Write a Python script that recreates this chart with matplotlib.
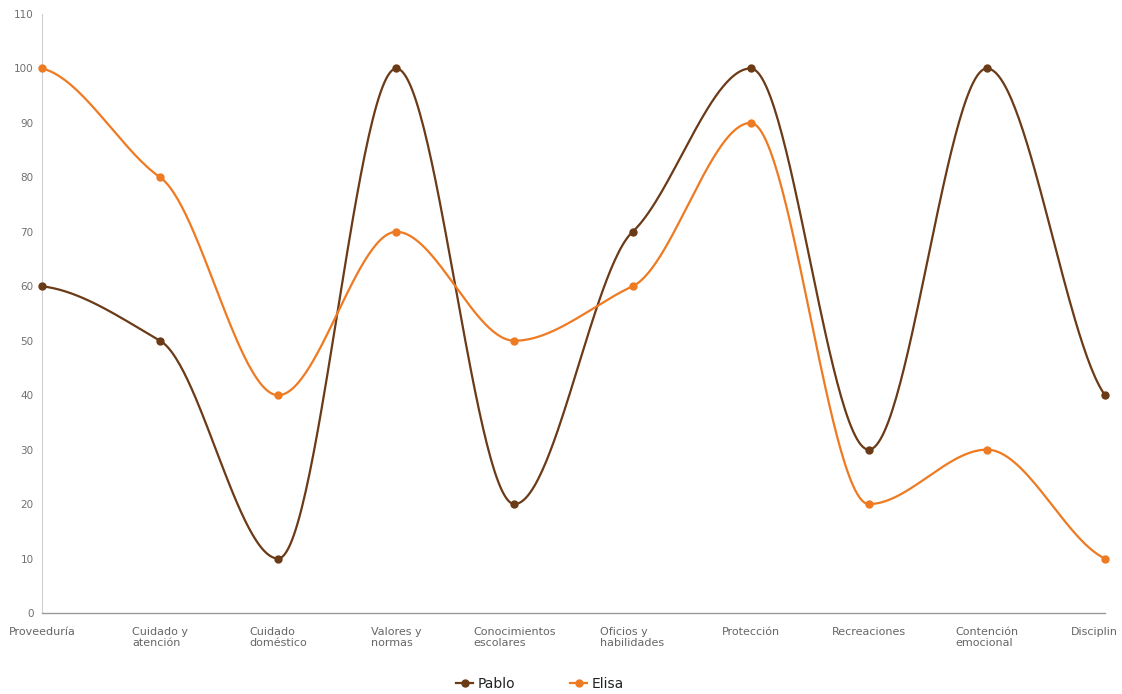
import numpy as np
import matplotlib
matplotlib.use("Agg")
import matplotlib.pyplot as plt
from matplotlib.lines import Line2D

categories = [
    "Proveeduría", "Cuidado y\natención", "Cuidado\ndoméstico", "Valores y\nnormas",
    "Conocimientos\nescolares", "Oficios y\nhabilidades", "Protección", "Recreaciones",
    "Contención\nemocional", "Disciplin",
]
pablo = [60, 50, 10, 100, 20, 70, 100, 30, 100, 40]
elisa = [100, 80, 40, 70, 50, 60, 90, 20, 30, 10]
series_names = ["Pablo", "Elisa"]
y_ticks = [0, 10, 20, 30, 40, 50, 60, 70, 80, 90, 100, 110]

PABLO_COLOR = "#6b3a17"
ELISA_COLOR = "#ee7a22"
LABEL_COLOR = "#666666"


def smooth_curve(y, tension=0.5, samples=60):
    """Cubic Hermite curve through the points, flat at local extrema."""
    y = np.asarray(y, dtype=float)
    n = len(y)
    m = np.zeros(n)
    for i in range(n):
        if i == 0:
            m[i] = tension * (y[1] - y[0]) * 0.5
        elif i == n - 1:
            m[i] = tension * (y[-1] - y[-2])
        else:
            if (y[i] - y[i - 1]) * (y[i + 1] - y[i]) <= 0:
                m[i] = 0.0
            else:
                m[i] = tension * (y[i + 1] - y[i - 1]) / 2
    xs, ys = [], []
    for i in range(n - 1):
        t = np.linspace(0, 1, samples, endpoint=(i == n - 2))
        h00 = 2 * t**3 - 3 * t**2 + 1
        h10 = t**3 - 2 * t**2 + t
        h01 = -2 * t**3 + 3 * t**2
        h11 = t**3 - t**2
        xs.append(i + t)
        ys.append(h00 * y[i] + h10 * m[i] + h01 * y[i + 1] + h11 * m[i + 1])
    return np.concatenate(xs), np.concatenate(ys)


fig = plt.figure(figsize=(11.22, 6.94), dpi=100)
ax = fig.add_axes([42 / 1122, 1 - 613 / 694, (1105 - 42) / 1122, (613 - 14) / 694])

x = np.arange(len(categories))
for vals, color in [(pablo, PABLO_COLOR), (elisa, ELISA_COLOR)]:
    sx, sy = smooth_curve(vals)
    ax.plot(sx, sy, color=color, lw=1.6, clip_on=False, zorder=3)
    ax.plot(x, vals, "o", color=color, ms=5, clip_on=False, zorder=4)

ax.set_xlim(0, len(categories) - 1)
ax.set_ylim(0, 110)
ax.set_yticks(y_ticks)
ax.set_yticklabels([str(v) for v in y_ticks], fontsize=7.5, color="#707070")
ax.set_xticks(x)
# the last category is right-aligned at the chart edge so it stays on the canvas
ax.set_xticklabels(categories[:-1] + [""], fontsize=8, color=LABEL_COLOR,
                   ha="center", multialignment="left", va="top")
ax.annotate(categories[-1], xy=(x[-1], 0), xycoords=("data", "axes fraction"),
            xytext=(9.5, -10), textcoords="offset points", ha="right", va="top",
            fontsize=8, color=LABEL_COLOR, annotation_clip=False)

ax.tick_params(axis="both", length=0)
ax.tick_params(axis="y", pad=6)
ax.tick_params(axis="x", pad=10)
for side in ["top", "right"]:
    ax.spines[side].set_visible(False)
ax.spines["left"].set_color("#d0d0d0")
ax.spines["bottom"].set_color("#999999")
ax.spines["bottom"].set_linewidth(1.0)

handles = [
    Line2D([], [], color=PABLO_COLOR, lw=1.6, marker="o", ms=5),
    Line2D([], [], color=ELISA_COLOR, lw=1.6, marker="o", ms=5),
]
fig.legend(handles, series_names, loc="center", bbox_to_anchor=(540 / 1122, 1 - 684 / 694),
           ncol=2, frameon=False, fontsize=10, handlelength=1.2, handletextpad=0.3,
           columnspacing=4.0, labelcolor="#222222")

fig.savefig("out.png", dpi=100, facecolor="white")
